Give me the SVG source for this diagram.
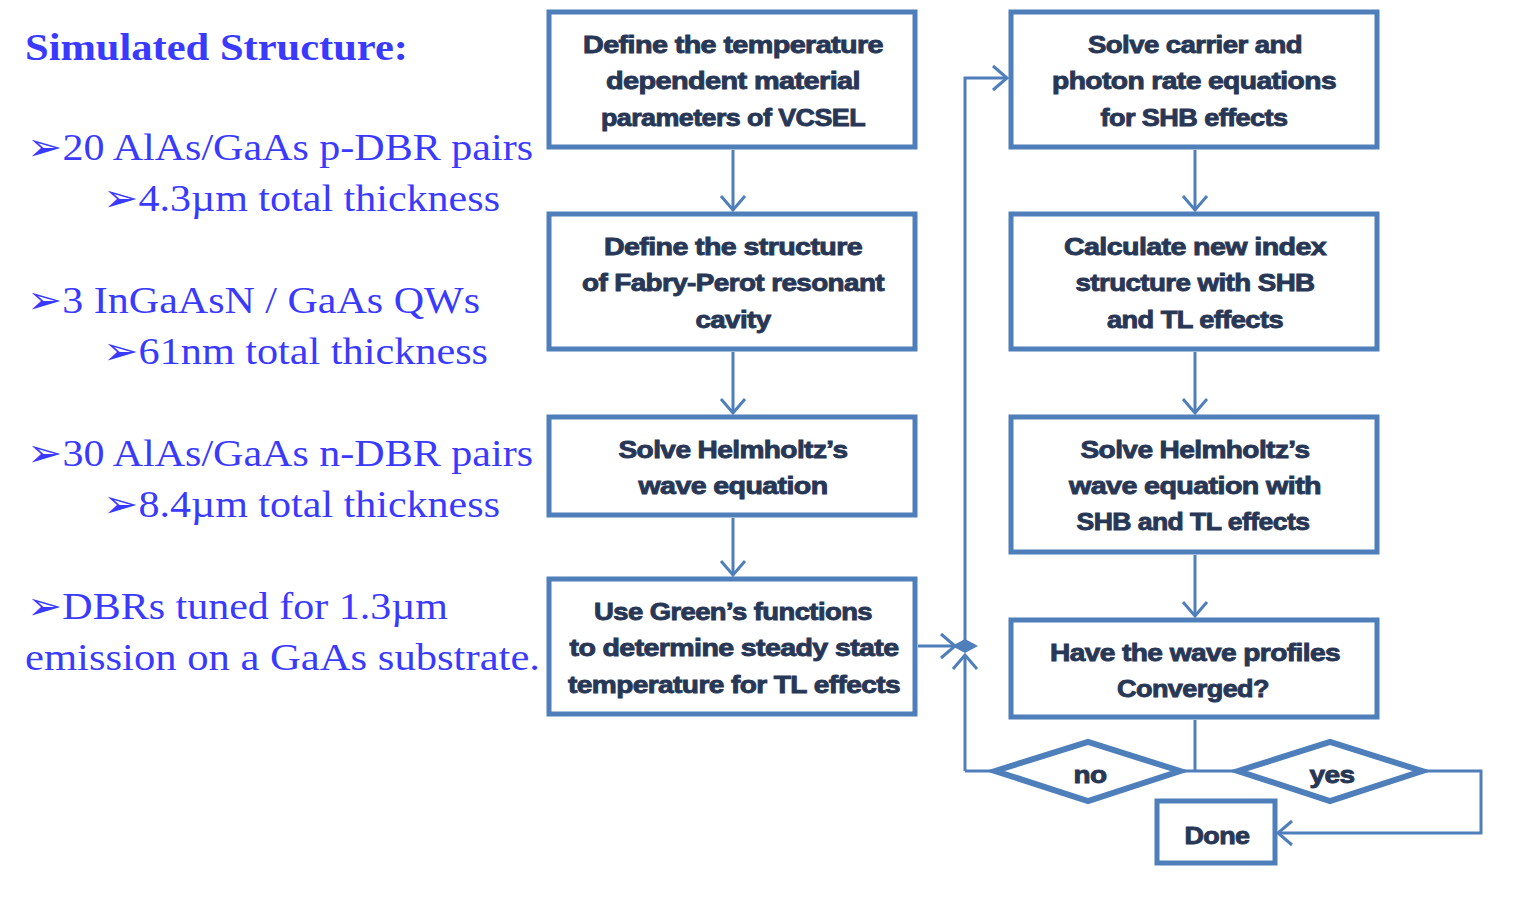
<svg xmlns="http://www.w3.org/2000/svg" width="1521" height="921" viewBox="0 0 1521 921">
<style>
.bg{fill:#ffffff}
.box{fill:#ffffff;stroke:#4f7fba;stroke-width:5}
.dia{fill:#ffffff;stroke:#4f7fba;stroke-width:6;stroke-linejoin:miter}
.con{fill:none;stroke:#4f7fba;stroke-width:3}
.t{font-family:"Liberation Sans",Arial,sans-serif;font-weight:bold;font-size:24px;fill:#283756;stroke:#283756;stroke-width:0.9;text-anchor:middle;letter-spacing:-0.5px}
.l{font-family:"Liberation Serif","Times New Roman",serif;font-size:38px;fill:#3a3aff}
.h{font-family:"Liberation Serif","Times New Roman",serif;font-size:38px;font-weight:bold;fill:#3a3aff}
</style>
<defs>
<marker id="v" markerUnits="userSpaceOnUse" markerWidth="30" markerHeight="30" viewBox="-16 -15 20 30" refX="0" refY="0" orient="auto">
<path d="M-14,-12 L0,0 L-14,12" fill="none" stroke="#4f7fba" stroke-width="3"/>
</marker>
</defs>
<rect class="bg" x="0" y="0" width="1521" height="921"/>

<g id="left-text">
<text class="h" x="25" y="60" textLength="383" lengthAdjust="spacingAndGlyphs">Simulated Structure:</text>
<text class="l" x="27" y="160" textLength="506" lengthAdjust="spacingAndGlyphs">➢20 AlAs/GaAs p-DBR pairs</text>
<text class="l" x="103" y="211" textLength="397" lengthAdjust="spacingAndGlyphs">➢4.3µm total thickness</text>
<text class="l" x="27" y="313" textLength="453" lengthAdjust="spacingAndGlyphs">➢3 InGaAsN / GaAs QWs</text>
<text class="l" x="103" y="364" textLength="385" lengthAdjust="spacingAndGlyphs">➢61nm total thickness</text>
<text class="l" x="27" y="466" textLength="506" lengthAdjust="spacingAndGlyphs">➢30 AlAs/GaAs n-DBR pairs</text>
<text class="l" x="103" y="517" textLength="397" lengthAdjust="spacingAndGlyphs">➢8.4µm total thickness</text>
<text class="l" x="27" y="619" textLength="421" lengthAdjust="spacingAndGlyphs">➢DBRs tuned for 1.3µm</text>
<text class="l" x="25" y="670" textLength="515" lengthAdjust="spacingAndGlyphs">emission on a GaAs substrate.</text>
</g>

<g id="connectors">
<line class="con" x1="733" y1="150" x2="733" y2="210" marker-end="url(#v)"/>
<line class="con" x1="733" y1="352" x2="733" y2="413" marker-end="url(#v)"/>
<line class="con" x1="733" y1="518" x2="733" y2="575" marker-end="url(#v)"/>
<line class="con" x1="1195" y1="150" x2="1195" y2="210" marker-end="url(#v)"/>
<line class="con" x1="1195" y1="352" x2="1195" y2="413" marker-end="url(#v)"/>
<line class="con" x1="1195" y1="555" x2="1195" y2="616" marker-end="url(#v)"/>
<line class="con" x1="918" y1="646" x2="955" y2="646" marker-end="url(#v)"/>
<line class="con" x1="965" y1="771" x2="965" y2="655" marker-end="url(#v)"/>
<polyline class="con" points="965,640 965,78 1007,78" marker-end="url(#v)"/>
<line class="con" x1="1195" y1="720" x2="1195" y2="771"/>
<line class="con" x1="965" y1="771" x2="995" y2="771"/>
<line class="con" x1="1180" y1="771" x2="1238" y2="771"/>
<polyline class="con" points="1422,771 1481,771 1481,833 1278,833" marker-end="url(#v)"/>
<path d="M952,646 L965,639 L978,646 L965,653 Z" fill="#4f7fba"/>
</g>

<g id="n1">
<rect class="box" x="549" y="12" width="366" height="135"/>
<text class="t" x="733" y="53" textLength="300" lengthAdjust="spacingAndGlyphs">Define the temperature</text>
<text class="t" x="733" y="89" textLength="254" lengthAdjust="spacingAndGlyphs">dependent material</text>
<text class="t" x="733" y="126" textLength="264" lengthAdjust="spacingAndGlyphs">parameters of VCSEL</text>
</g>
<g id="n2">
<rect class="box" x="549" y="214" width="366" height="135"/>
<text class="t" x="733" y="255" textLength="258" lengthAdjust="spacingAndGlyphs">Define the structure</text>
<text class="t" x="733" y="291" textLength="302" lengthAdjust="spacingAndGlyphs">of Fabry-Perot resonant</text>
<text class="t" x="733" y="328" textLength="75" lengthAdjust="spacingAndGlyphs">cavity</text>
</g>
<g id="n3">
<rect class="box" x="549" y="417" width="366" height="98"/>
<text class="t" x="733" y="458" textLength="229" lengthAdjust="spacingAndGlyphs">Solve Helmholtz’s</text>
<text class="t" x="733" y="494" textLength="189" lengthAdjust="spacingAndGlyphs">wave equation</text>
</g>
<g id="n4">
<rect class="box" x="549" y="579" width="366" height="135"/>
<text class="t" x="733" y="620" textLength="278" lengthAdjust="spacingAndGlyphs">Use Green’s functions</text>
<text class="t" x="734" y="656" textLength="329" lengthAdjust="spacingAndGlyphs">to determine steady state</text>
<text class="t" x="734" y="693" textLength="332" lengthAdjust="spacingAndGlyphs">temperature for TL effects</text>
</g>
<g id="r1">
<rect class="box" x="1011" y="12" width="366" height="135"/>
<text class="t" x="1195" y="53" textLength="214" lengthAdjust="spacingAndGlyphs">Solve carrier and</text>
<text class="t" x="1194" y="89" textLength="284" lengthAdjust="spacingAndGlyphs">photon rate equations</text>
<text class="t" x="1194" y="126" textLength="187" lengthAdjust="spacingAndGlyphs">for SHB effects</text>
</g>
<g id="r2">
<rect class="box" x="1011" y="214" width="366" height="135"/>
<text class="t" x="1195" y="255" textLength="262" lengthAdjust="spacingAndGlyphs">Calculate new  index</text>
<text class="t" x="1195" y="291" textLength="239" lengthAdjust="spacingAndGlyphs">structure with SHB</text>
<text class="t" x="1195" y="328" textLength="176" lengthAdjust="spacingAndGlyphs">and TL effects</text>
</g>
<g id="r3">
<rect class="box" x="1011" y="417" width="366" height="135"/>
<text class="t" x="1195" y="458" textLength="229" lengthAdjust="spacingAndGlyphs">Solve Helmholtz’s</text>
<text class="t" x="1195" y="494" textLength="252" lengthAdjust="spacingAndGlyphs">wave equation with</text>
<text class="t" x="1193" y="530" textLength="233" lengthAdjust="spacingAndGlyphs">SHB and TL effects</text>
</g>
<g id="r4">
<rect class="box" x="1011" y="620" width="366" height="97"/>
<text class="t" x="1195" y="661" textLength="290" lengthAdjust="spacingAndGlyphs">Have the wave profiles</text>
<text class="t" x="1193" y="697" textLength="152" lengthAdjust="spacingAndGlyphs">Converged?</text>
</g>
<g id="no">
<polygon class="dia" points="995,771 1088,742 1180,771 1088,801"/>
<text class="t" x="1090" y="783" textLength="33" lengthAdjust="spacingAndGlyphs">no</text>
</g>
<g id="yes">
<polygon class="dia" points="1238,771 1330,742 1422,771 1330,801"/>
<text class="t" x="1332" y="783" textLength="45" lengthAdjust="spacingAndGlyphs">yes</text>
</g>
<g id="done">
<rect class="box" x="1157" y="801" width="118" height="62"/>
<text class="t" x="1217" y="844" textLength="65" lengthAdjust="spacingAndGlyphs">Done</text>
</g>
</svg>
